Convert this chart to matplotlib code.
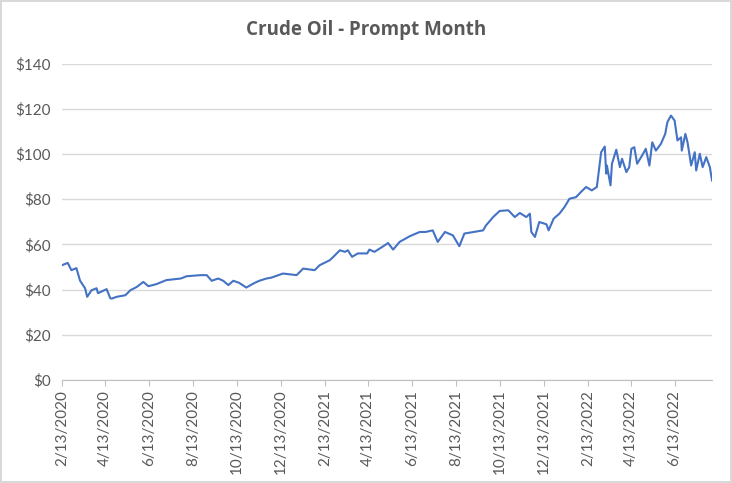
import pandas as pd
import matplotlib
matplotlib.use("Agg")
import matplotlib.pyplot as plt
from matplotlib.ticker import FuncFormatter

# prompt month settle prices
dates = [
    "2020-02-13", "2020-02-21", "2020-02-26", "2020-03-04", "2020-03-09", "2020-03-16",
    "2020-03-19", "2020-03-25", "2020-04-01", "2020-04-03", "2020-04-15", "2020-04-20",
    "2020-04-22", "2020-04-29", "2020-05-11", "2020-05-18", "2020-05-27", "2020-06-05",
    "2020-06-12", "2020-06-23", "2020-07-07", "2020-07-27", "2020-08-04", "2020-08-24",
    "2020-09-01", "2020-09-08", "2020-09-17", "2020-09-24", "2020-10-01", "2020-10-08",
    "2020-10-16", "2020-10-26", "2020-11-05", "2020-11-13", "2020-11-23", "2020-11-30",
    "2020-12-16", "2021-01-04", "2021-01-13", "2021-01-29", "2021-02-05", "2021-02-19",
    "2021-02-24", "2021-03-05", "2021-03-12", "2021-03-16", "2021-03-22", "2021-03-30",
    "2021-04-12", "2021-04-15", "2021-04-22", "2021-05-03", "2021-05-11", "2021-05-18",
    "2021-05-27", "2021-06-10", "2021-06-24", "2021-07-02", "2021-07-12", "2021-07-19",
    "2021-07-29", "2021-08-09", "2021-08-18", "2021-08-25", "2021-09-07", "2021-09-20",
    "2021-09-24", "2021-10-04", "2021-10-13", "2021-10-25", "2021-11-03", "2021-11-10",
    "2021-11-19", "2021-11-24", "2021-11-26", "2021-12-01", "2021-12-07", "2021-12-17",
    "2021-12-20", "2021-12-27", "2022-01-04", "2022-01-11", "2022-01-18", "2022-01-27",
    "2022-02-03", "2022-02-10", "2022-02-18", "2022-02-25", "2022-03-03", "2022-03-08",
    "2022-03-10", "2022-03-11", "2022-03-16", "2022-03-18", "2022-03-24", "2022-03-29",
    "2022-04-01", "2022-04-07", "2022-04-11", "2022-04-14", "2022-04-18", "2022-04-22",
    "2022-04-29", "2022-05-04", "2022-05-09", "2022-05-13", "2022-05-18", "2022-05-25",
    "2022-05-31", "2022-06-03", "2022-06-08", "2022-06-13", "2022-06-17", "2022-06-22",
    "2022-06-23", "2022-06-28", "2022-07-01", "2022-07-06", "2022-07-11", "2022-07-13",
    "2022-07-18", "2022-07-22", "2022-07-27", "2022-08-01", "2022-08-04",
]
prices = [
    50.8, 51.8, 48.6, 49.5, 44.0, 40.6,
    36.8, 39.7, 40.6, 38.4, 40.2, 36.2,
    36.0, 36.8, 37.5, 39.7, 41.2, 43.4,
    41.5, 42.4, 44.2, 44.9, 45.9, 46.4,
    46.4, 43.9, 44.9, 43.9, 42.0, 43.9,
    43.0, 40.9, 42.7, 43.9, 44.9, 45.3,
    47.1, 46.4, 49.3, 48.6, 50.8, 53.0,
    54.5, 57.4, 56.7, 57.4, 54.5, 56.0,
    56.0, 57.7, 56.7, 58.9, 60.6, 57.7,
    61.1, 63.6, 65.5, 65.5, 66.2, 61.1,
    65.5, 64.0, 59.2, 64.8, 65.5, 66.2,
    68.4, 72.1, 74.8, 75.1, 72.1, 73.9,
    72.1, 73.6, 65.5, 63.3, 69.9, 68.9,
    66.2, 71.4, 73.6, 76.5, 80.2, 80.9,
    83.2, 85.4, 83.9, 85.4, 100.8, 103.3,
    91.3, 94.9, 86.1, 95.7, 101.9, 94.2,
    97.9, 92.0, 94.2, 102.3, 103.0, 95.7,
    99.4, 102.3, 94.9, 105.2, 101.5, 104.5,
    108.9, 114.1, 117.0, 114.8, 106.0, 107.4,
    101.5, 108.9, 105.2, 94.9, 100.8, 92.7,
    100.1, 94.2, 98.6, 94.2, 88.3,
]
tick_dates = pd.date_range("2020-02-13", periods=15, freq=pd.DateOffset(months=2))
y_ticks = [0, 20, 40, 60, 80, 100, 120, 140]

x = pd.to_datetime(dates)

plt.rcParams['font.family'] = ['Lato', 'DejaVu Sans']
gray_text = '#595959'

fig = plt.figure(figsize=(7.32, 4.83), dpi=100)
fig.patch.set_edgecolor('#D9D9D9')
fig.patch.set_linewidth(1.5)
ax = fig.add_axes([0.0847, 0.2133, 0.888, 0.655])

ax.plot(x, prices, color='#4472C4', linewidth=1.5)

# axis ranges and ticks
ax.set_xlim(x[0], x[-1])
ax.set_ylim(0, 140)
ax.set_yticks(y_ticks)
ax.yaxis.set_major_formatter(FuncFormatter(lambda v, p: f"${v:.0f}"))
ax.set_xticks(tick_dates)
ax.set_xticklabels([f"{d.month}/{d.day}/{d.year}" for d in tick_dates], rotation=90)

ax.grid(axis='y', color='#D9D9D9', linewidth=1)
ax.set_axisbelow(True)
for side in ['left', 'right', 'top']:
    ax.spines[side].set_visible(False)
ax.spines['bottom'].set_color('#BFBFBF')
ax.tick_params(axis='y', length=0, pad=8, labelsize=11, labelcolor=gray_text)
ax.tick_params(axis='x', length=4, color='#BFBFBF', pad=3, labelsize=11, labelcolor=gray_text)

fig.suptitle("Crude Oil - Prompt Month", x=0.5, y=0.958, fontsize=13.5,
             color=gray_text, fontweight='bold', family=['Open Sans', 'DejaVu Sans'])

fig.savefig("out.png", dpi=100, edgecolor=fig.get_edgecolor())
